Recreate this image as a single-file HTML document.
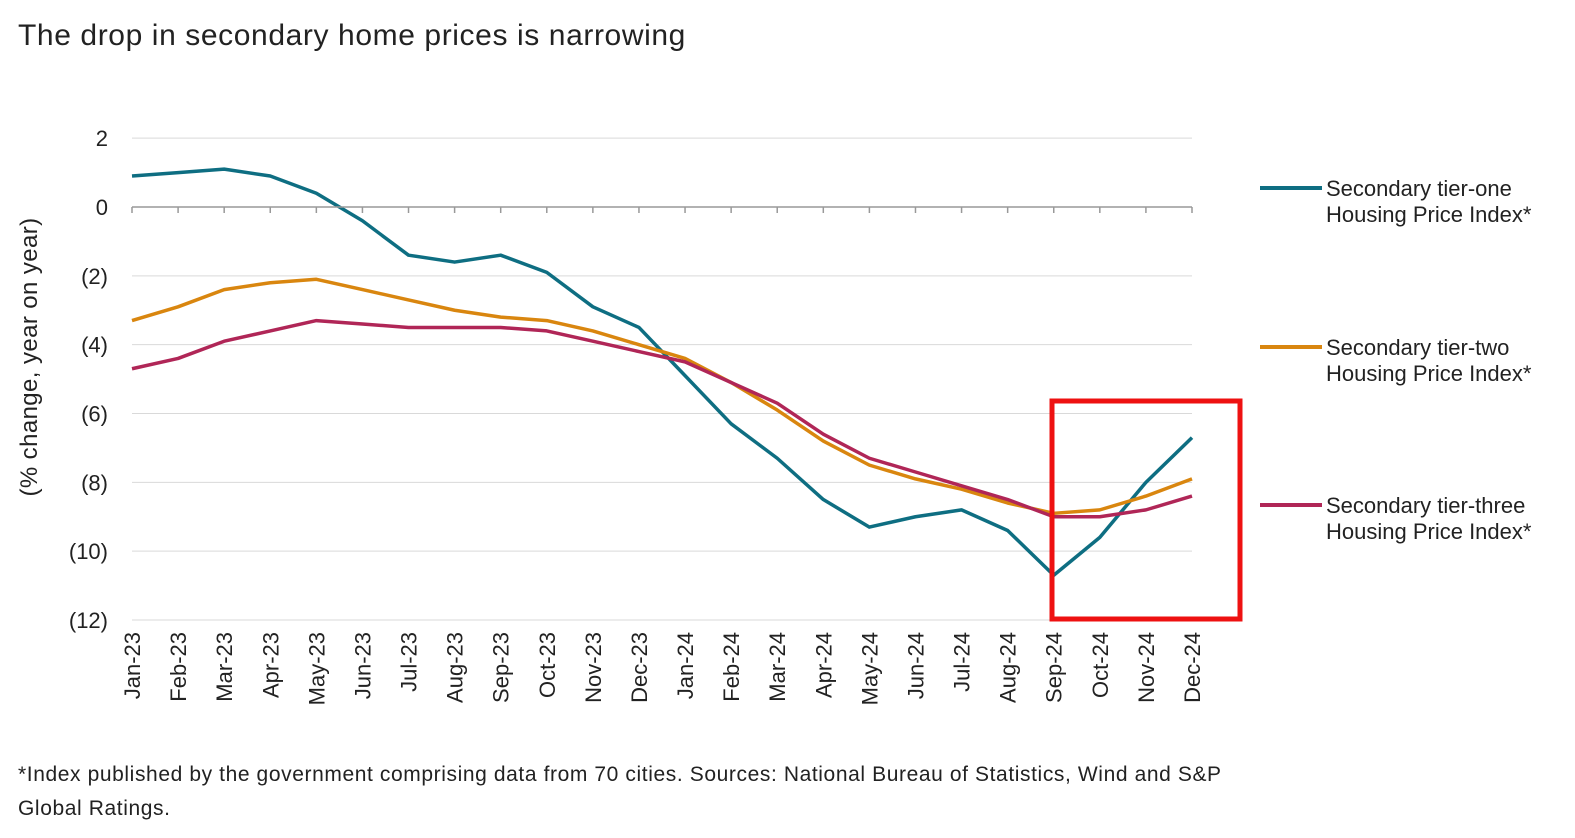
<!DOCTYPE html>
<html><head><meta charset="utf-8"><style>
body{margin:0;background:#fff;width:1575px;height:833px;overflow:hidden;font-family:"Liberation Sans",sans-serif;}
svg text{font-family:"Liberation Sans",sans-serif;fill:#222;}
</style></head><body>
<svg id="chart" width="1575" height="833">
<text x="18" y="45" font-size="30" letter-spacing="0.6">The drop in secondary home prices is narrowing</text>
<g id="grid"></g><g id="series"></g><g id="axes"></g>
<text transform="translate(37,357) rotate(-90)" text-anchor="middle" font-size="24" letter-spacing="0.4">(% change, year on year)</text>
<rect x="1052" y="401" width="188" height="218" fill="none" stroke="#ee1111" stroke-width="5"/>
<g font-size="22">
<line x1="1260" y1="188" x2="1322" y2="188" stroke="#0e6e82" stroke-width="4"/>
<text x="1326" y="196">Secondary tier-one</text><text x="1326" y="222">Housing Price Index*</text>
<line x1="1260" y1="347" x2="1322" y2="347" stroke="#d9860f" stroke-width="4"/>
<text x="1326" y="355">Secondary tier-two</text><text x="1326" y="381">Housing Price Index*</text>
<line x1="1260" y1="505" x2="1322" y2="505" stroke="#b02657" stroke-width="4"/>
<text x="1326" y="513">Secondary tier-three</text><text x="1326" y="539">Housing Price Index*</text>
</g>
<text x="18" y="781" font-size="21" letter-spacing="0.6">*Index published by the government comprising data from 70 cities. Sources: National Bureau of Statistics, Wind and S&amp;P</text>
<text x="18" y="815" font-size="21" letter-spacing="0.6">Global Ratings.</text>
</svg>
<script>
const categories=["Jan-23","Feb-23","Mar-23","Apr-23","May-23","Jun-23","Jul-23","Aug-23","Sep-23","Oct-23","Nov-23","Dec-23","Jan-24","Feb-24","Mar-24","Apr-24","May-24","Jun-24","Jul-24","Aug-24","Sep-24","Oct-24","Nov-24","Dec-24"];
const tierOne=[0.9,1.0,1.1,0.9,0.4,-0.4,-1.4,-1.6,-1.4,-1.9,-2.9,-3.5,-4.9,-6.3,-7.3,-8.5,-9.3,-9.0,-8.8,-9.4,-10.7,-9.6,-8.0,-6.7];
const tierTwo=[-3.3,-2.9,-2.4,-2.2,-2.1,-2.4,-2.7,-3.0,-3.2,-3.3,-3.6,-4.0,-4.4,-5.1,-5.9,-6.8,-7.5,-7.9,-8.2,-8.6,-8.9,-8.8,-8.4,-7.9];
const tierThree=[-4.7,-4.4,-3.9,-3.6,-3.3,-3.4,-3.5,-3.5,-3.5,-3.6,-3.9,-4.2,-4.5,-5.1,-5.7,-6.6,-7.3,-7.7,-8.1,-8.5,-9.0,-9.0,-8.8,-8.4];
const yTicks=[2,0,-2,-4,-6,-8,-10,-12];
const yTickLabels=["2","0","(2)","(4)","(6)","(8)","(10)","(12)"];
const NS="http://www.w3.org/2000/svg";
const x=i=>132+i*(1192-132)/(categories.length-1);
const y=v=>207-v*(620-207)/12;
function mk(tag,attrs,parent){const e=document.createElementNS(NS,tag);for(const k in attrs)e.setAttribute(k,attrs[k]);parent.appendChild(e);return e;}
const grid=document.getElementById('grid'),axes=document.getElementById('axes'),ser=document.getElementById('series');
yTicks.forEach((t,i)=>{
 if(t!==0){const l=mk('line',{x1:132,x2:1192,y1:y(t),y2:y(t),stroke:'#d9d9d9','stroke-width':1},grid);
 
 }
 const tx=mk('text',{x:108,y:y(t)+8,'text-anchor':'end','font-size':22},axes);tx.textContent=yTickLabels[i];
 
 
});
const zl=mk('line',{x1:132,x2:1192,y1:y(0),y2:y(0),stroke:'#999','stroke-width':1.5},axes);


categories.forEach((c,i)=>{
 const tk=mk('line',{x1:x(i),x2:x(i),y1:y(0),y2:y(0)+6,stroke:'#999','stroke-width':1.5},axes);
 
 
 const t=mk('text',{transform:`translate(${x(i)+8},632) rotate(-90)`,'text-anchor':'end','font-size':22},axes);t.textContent=c;
 
 
});
[[tierOne,'#0e6e82','tier-one-line'],[tierTwo,'#d9860f','tier-two-line'],[tierThree,'#b02657','tier-three-line']].forEach(([d,col,name])=>{
 const p=mk('polyline',{points:d.map((v,i)=>x(i)+','+y(v)).join(' '),fill:'none',stroke:col,'stroke-width':3.5,'stroke-linejoin':'round'},ser);
 
 
});
</script>
</body></html>
